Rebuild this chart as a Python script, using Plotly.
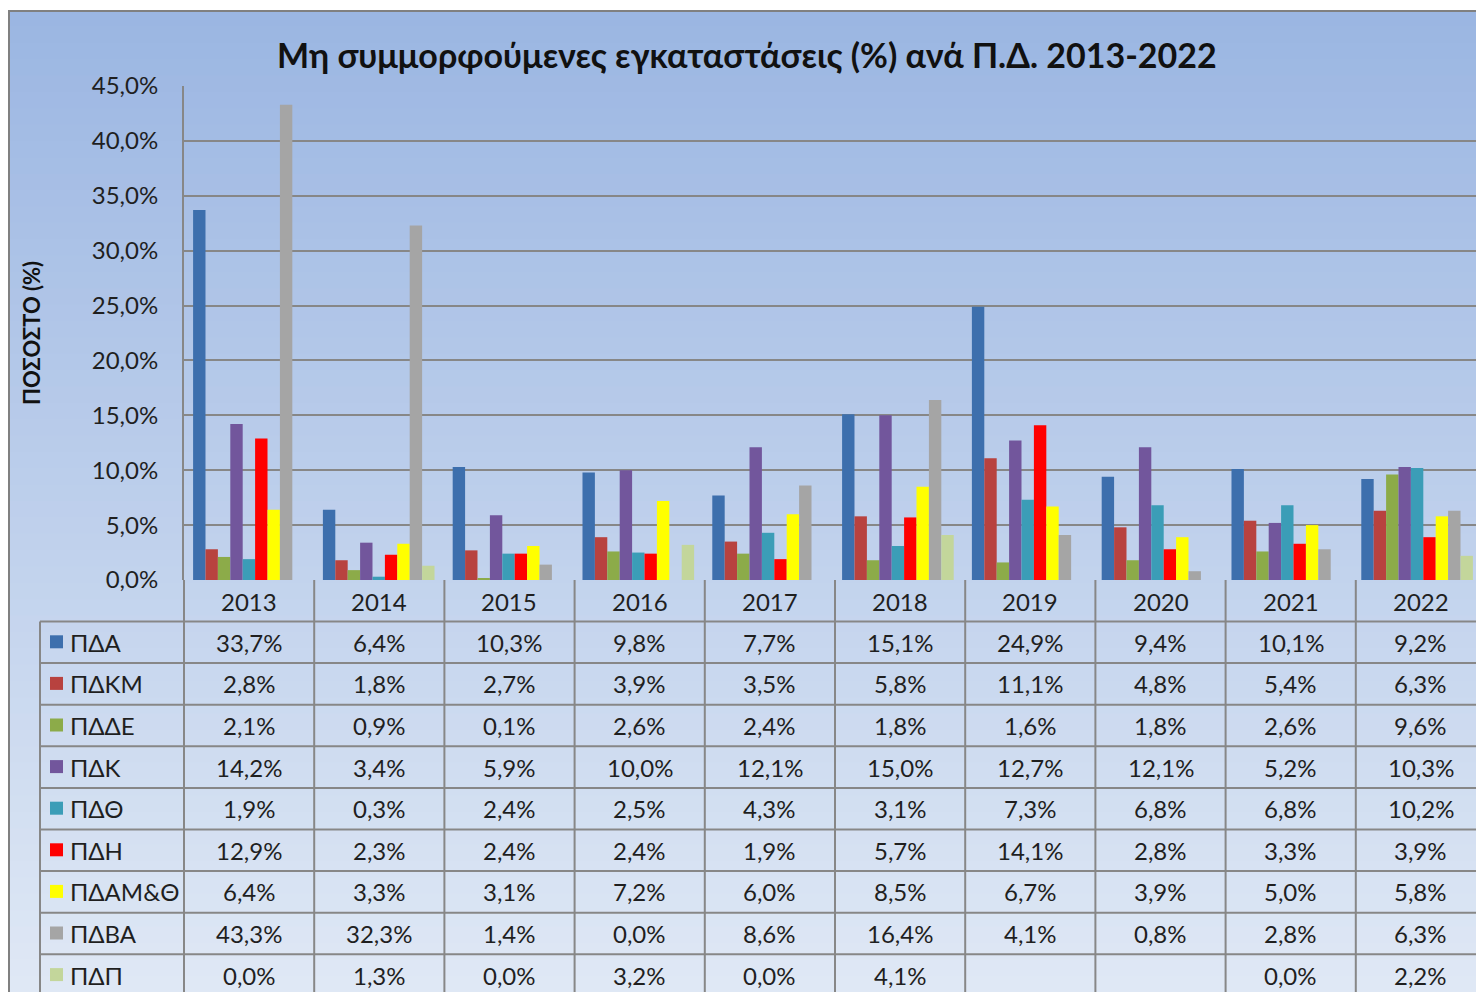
import plotly.graph_objects as go

years = ["2013", "2014", "2015", "2016", "2017", "2018", "2019", "2020", "2021", "2022"]
regions = ["ΠΔΑ", "ΠΔΚΜ", "ΠΔΔΕ", "ΠΔΚ", "ΠΔΘ", "ΠΔΗ", "ΠΔΑΜ&Θ", "ΠΔΒΑ", "ΠΔΠ"]

pda = [33.7, 6.4, 10.3, 9.8, 7.7, 15.1, 24.9, 9.4, 10.1, 9.2]
pdkm = [2.8, 1.8, 2.7, 3.9, 3.5, 5.8, 11.1, 4.8, 5.4, 6.3]
pdde = [2.1, 0.9, 0.1, 2.6, 2.4, 1.8, 1.6, 1.8, 2.6, 9.6]
pdk = [14.2, 3.4, 5.9, 10.0, 12.1, 15.0, 12.7, 12.1, 5.2, 10.3]
pdth = [1.9, 0.3, 2.4, 2.5, 4.3, 3.1, 7.3, 6.8, 6.8, 10.2]
pdh = [12.9, 2.3, 2.4, 2.4, 1.9, 5.7, 14.1, 2.8, 3.3, 3.9]
pdamth = [6.4, 3.3, 3.1, 7.2, 6.0, 8.5, 6.7, 3.9, 5.0, 5.8]
pdva = [43.3, 32.3, 1.4, 0.0, 8.6, 16.4, 4.1, 0.8, 2.8, 6.3]
pdp = [0.0, 1.3, 0.0, 3.2, 0.0, 4.1, None, None, 0.0, 2.2]

series = [pda, pdkm, pdde, pdk, pdth, pdh, pdamth, pdva, pdp]
colors = ["#3D6FAD", "#B8423F", "#8CAB49", "#72569C", "#3B9DB7", "#FF0000", "#FFFF00", "#A5A5A5", "#C3D69B"]

title = "Μη συμμορφούμενες εγκαταστάσεις (%) ανά Π.Δ. 2013-2022"
ytitle = "ΠΟΣΟΣΤΟ (%)"

# page 1484x992 with 8px body margin -> figure placed at (8, 8)
PAGE_W, PAGE_H = 1484, 992
OFF = 8
W, H = PAGE_W - OFF, PAGE_H - OFF
FONT = "Lato, 'Noto Sans', sans-serif"
TXT = "#1f1f1f"
GRID = "#878787"


def px(x):
    return (x - OFF) / W


def py(y):
    return 1 - (y - OFF) / H


def fmt(v):
    if v is None:
        return ""
    return f"{v:.1f}".replace(".", ",") + "%"


fig = go.Figure()
for name, vals, col in zip(regions, series, colors):
    fig.add_trace(go.Bar(x=years, y=vals, name=name, marker=dict(color=col, line=dict(width=0))))

shapes = []
# gradient background of chart area
top_c = (0x9B, 0xB6, 0xE2)
bot_c = (0xDF, 0xE8, 0xF5)
n = 60
y0, y1 = 10, PAGE_H
for i in range(n):
    t = i / (n - 1)
    c = tuple(int(round(a + (b - a) * t)) for a, b in zip(top_c, bot_c))
    ya = y0 + (y1 - y0) * i / n
    yb = y0 + (y1 - y0) * (i + 1) / n + 1
    shapes.append(dict(type="rect", xref="paper", yref="paper", x0=px(9), x1=px(PAGE_W + 5),
                       y0=py(yb), y1=py(ya), fillcolor="rgb(%d,%d,%d)" % c,
                       line=dict(width=0), layer="below"))
# outer border
shapes.append(dict(type="rect", xref="paper", yref="paper", x0=px(9), x1=px(PAGE_W + 10),
                   y0=py(PAGE_H + 10), y1=py(11), line=dict(color="#808080", width=2),
                   fillcolor="rgba(0,0,0,0)", layer="below"))

# table grid
x_left = 184
x_right = 1486
col_w = (x_right - x_left) / len(years)
row_top = 580
hdr_h = 41.5
row_h = 41.6
leg_left = 40
row_lines = [row_top + hdr_h + row_h * i for i in range(len(regions) + 1)]
for yl in row_lines:
    shapes.append(dict(type="line", xref="paper", yref="paper", x0=px(leg_left), x1=px(PAGE_W + 5),
                       y0=py(yl), y1=py(yl), line=dict(color=GRID, width=2)))
for j in range(len(years)):
    xl = x_left + col_w * j
    shapes.append(dict(type="line", xref="paper", yref="paper", x0=px(xl), x1=px(xl),
                       y0=py(row_top), y1=py(PAGE_H + 5), line=dict(color=GRID, width=2)))
shapes.append(dict(type="line", xref="paper", yref="paper", x0=px(leg_left), x1=px(leg_left),
                   y0=py(row_top + hdr_h), y1=py(PAGE_H + 5), line=dict(color=GRID, width=2)))

annotations = []
annotations.append(dict(text="<b>" + title + "</b>", x=px(747), y=py(55), xref="paper", yref="paper",
                        showarrow=False, font=dict(size=34, color="#111", family=FONT),
                        xanchor="center", yanchor="middle"))
annotations.append(dict(text="<b>" + ytitle + "</b>", x=px(31), y=py(333), xref="paper", yref="paper",
                        showarrow=False, textangle=-90, font=dict(size=22, color="#111", family=FONT),
                        xanchor="center", yanchor="middle"))
for j, yr in enumerate(years):
    annotations.append(dict(text=yr, x=px(x_left + col_w * (j + 0.5)), y=py(row_top + hdr_h / 2 + 1),
                            xref="paper", yref="paper", showarrow=False,
                            font=dict(size=24, color=TXT, family=FONT), xanchor="center", yanchor="middle"))
for i, (name, vals, col) in enumerate(zip(regions, series, colors)):
    yc = row_top + hdr_h + row_h * (i + 0.5)
    shapes.append(dict(type="rect", xref="paper", yref="paper", x0=px(50), x1=px(63),
                       y0=py(yc + 6), y1=py(yc - 7), fillcolor=col, line=dict(width=0)))
    annotations.append(dict(text=name, x=px(68), y=py(yc), xref="paper", yref="paper", showarrow=False,
                            font=dict(size=24, color=TXT, family=FONT), xanchor="left", yanchor="middle"))
    for j, v in enumerate(vals):
        annotations.append(dict(text=fmt(v), x=px(x_left + col_w * (j + 0.5)), y=py(yc),
                                xref="paper", yref="paper", showarrow=False,
                                font=dict(size=24, color=TXT, family=FONT),
                                xanchor="center", yanchor="middle"))

fig.update_layout(
    width=W, height=H,
    margin=dict(l=0, r=0, t=0, b=0, pad=0, autoexpand=False),
    paper_bgcolor="white", plot_bgcolor="rgba(0,0,0,0)",
    separators=",.",
    barmode="group", bargap=0.14, bargroupgap=0,
    showlegend=False,
    font=dict(family=FONT, color=TXT),
    shapes=shapes, annotations=annotations,
    xaxis=dict(domain=[px(x_left), 1.0], range=[-0.5, 9.5 + (x_right - PAGE_W) / col_w],
               automargin=False,
               showticklabels=False, showgrid=False, zeroline=False, showline=False, ticks=""),
    yaxis=dict(domain=[py(580), py(86)], range=[0, 45], dtick=5, tickformat=".1f", ticksuffix="%",
               automargin=False,
               showgrid=True, gridcolor=GRID, gridwidth=2, zeroline=False,
               showline=True, linecolor=GRID, linewidth=2,
               ticks="outside", ticklen=19, tickcolor="rgba(0,0,0,0)",
               tickfont=dict(size=24, color=TXT, family=FONT)),
)

fig.write_html("out.html", config={"displayModeBar": False})
